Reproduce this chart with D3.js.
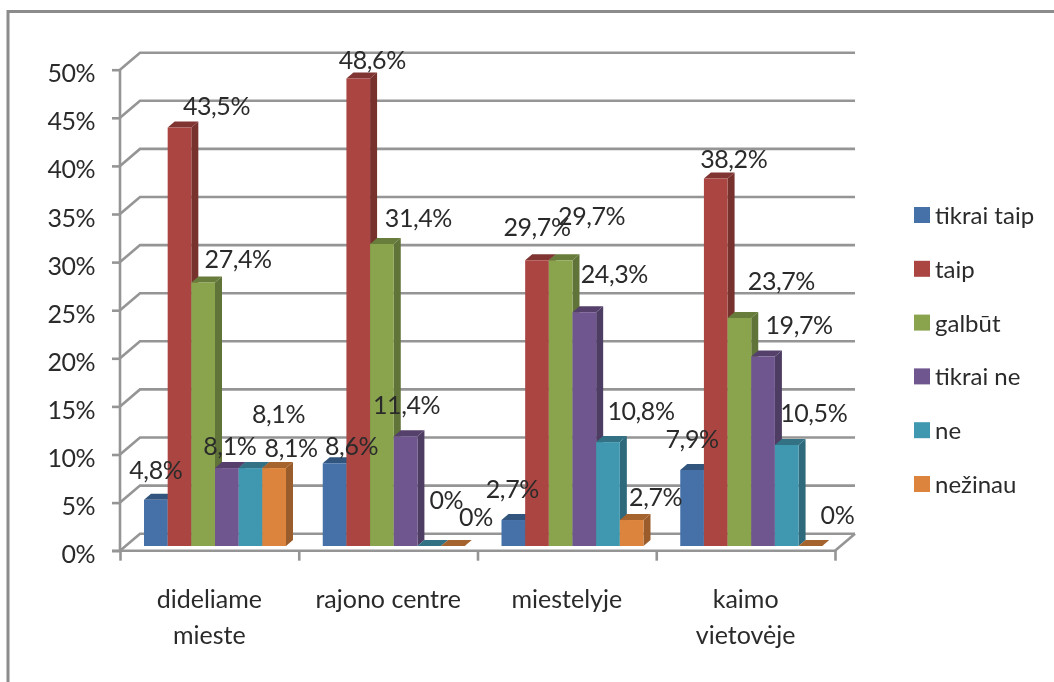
<!DOCTYPE html>
<html><head><meta charset="utf-8">
<script src="https://cdn.jsdelivr.net/npm/d3@7"></script>
<style>html,body{margin:0;background:#fff}svg{display:block}text{font-family:Lato,"Open Sans",sans-serif;fill:#2b2b2b}</style>
</head><body><svg id="c" width="1054" height="682"></svg>
<script>
const categories=[["dideliame","mieste"],["rajono centre"],["miestelyje"],["kaimo","vietovėje"]];
const seriesNames=["tikrai taip","taip","galbūt","tikrai ne","ne","nežinau"];
const tikraiTaip=[4.8,8.6,2.7,7.9];
const taip=[43.5,48.6,29.7,38.2];
const galbut=[27.4,31.4,29.7,23.7];
const tikraiNe=[8.1,11.4,24.3,19.7];
const ne=[8.1,0,10.8,10.5];
const nezinau=[8.1,0,2.7,0];
const tickValues=[0,5,10,15,20,25,30,35,40,45,50];
const allSeries=[tikraiTaip,taip,galbut,tikraiNe,ne,nezinau];
const colours=["#4471a8","#aa4542","#89a44e","#70578f","#4098b0","#dc843c"];
// label centre offsets from each bar's top centre [dx,dy], per series then category
const labelOffsets=[
 [[0,-31],[17,-18],[-1,-32],[0,-32]],
 [[37,-23],[14,-19.5],[0,-34],[18,-21]],
 [[35,-24],[36.5,-27],[31,-45],[42,-38]],
 [[3,-23],[1,-32],[30,-39],[36,-32.5]],
 [[28,-55],[17,-47],[33,-32],[27,-33]],
 [[17,-21],[23,-30],[24,-24],[27,-32]]];

const svg=d3.select("#c");
const defs=svg.append("defs");
defs.append("filter").attr("id","soft").attr("x",0).attr("y",0).attr("width",1).attr("height",1)
  .attr("filterUnits","userSpaceOnUse").attr("x",0).attr("y",0).attr("width",1054).attr("height",682)
  .append("feGaussianBlur").attr("stdDeviation",0.55);
const root=svg.append("g").attr("filter","url(#soft)");
root.append("path").attr("d","M8,682V11.5H1054").attr("fill","none").attr("stroke","#8c8c8c").attr("stroke-width",3);
const g=root.append("g");
const y=d3.scaleLinear().domain([0,50]).range([546,65]);
const frontY=v=>y(v)+4.7;
const backY=v=>y(v)-12.3;
const x0=d3.scaleBand().domain(d3.range(4)).range([120,835]);
const x1=d3.scaleBand().domain(d3.range(6)).range([24,166]);
const dx=20,grid="#959595",sw=2.6;
const xLeft=x0.range()[0],xRight=x0.range()[1];
tickValues.forEach(v=>{
  g.append("path").attr("d",`M${xLeft},${frontY(v)}L${xLeft+dx},${backY(v)}H${xRight+dx}`).attr("fill","none").attr("stroke",grid).attr("stroke-width",sw);
});
g.append("path").attr("d",`M${xRight+dx},${backY(0)}L${xRight},${frontY(0)}`).attr("fill","none").attr("stroke",grid).attr("stroke-width",sw);
const ya=g.append("g").attr("transform",`translate(${xLeft},4.7)`).call(d3.axisLeft(y).tickValues(tickValues).tickFormat(d=>d+"%").tickSize(8).tickPadding(17));
ya.select(".domain").attr("stroke",grid).attr("stroke-width",sw).attr("d",`M0,${y(50)}V${y(0)}`);
ya.selectAll("line").attr("stroke",grid).attr("stroke-width",sw);
ya.selectAll("text").attr("font-size",25).attr("letter-spacing",-0.5).attr("fill","#2b2b2b").attr("style","font-family:Lato").attr("dy","0.48em");
const xa=g.append("g").attr("transform",`translate(0,${frontY(0)})`).call(d3.axisBottom(d3.scaleLinear().domain([0,4]).range([xLeft,xRight])).tickValues(d3.range(5)).tickFormat("").tickSize(10));
xa.select(".domain").attr("stroke",grid).attr("stroke-width",sw).attr("d",`M${xLeft-8},0H${xRight}`);
xa.selectAll("line").attr("stroke",grid).attr("stroke-width",sw);
// bars
const D=7,Dy=6;
const bars=g.append("g");
categories.forEach((_,c)=>{
  allSeries.forEach((s,i)=>{
    const v=s[c],bx=x0(c)+x1(i),w=x1.bandwidth(),t=y(v),b=y(0),col=d3.color(colours[i]);
    bars.append("path").attr("d",`M${bx+w},${t}l${D},${-Dy}V${b-Dy}l${-D},${Dy}Z`).attr("fill",col.darker(1));
    bars.append("path").attr("d",`M${bx},${t}l${D},${-Dy}h${w}l${-D},${Dy}Z`).attr("fill",col.darker(0.8));
    bars.append("rect").attr("x",bx).attr("y",t).attr("width",w).attr("height",b-t).attr("fill",colours[i]);
  });
});
// labels
const lab=g.append("g");
allSeries.forEach((s,i)=>s.forEach((v,c)=>{
  const o=labelOffsets[i][c],bx=x0(c)+x1(i)+x1.bandwidth()/2;
  lab.append("text").attr("x",bx+o[0]).attr("y",y(v)+o[1]).attr("text-anchor","middle").attr("dominant-baseline","central").attr("font-size",25).attr("letter-spacing",-0.4)
   .text(String(v).replace(".",",")+"%");
}));
// category labels
categories.forEach((l,c)=>{
  l.forEach((t,k)=>g.append("text").attr("x",x0(c)+x0.bandwidth()/2).attr("y",608+k*36).attr("text-anchor","middle").attr("font-size",25).text(t));
});
// legend
const ly=d3.scalePoint().domain(seriesNames).range([215,484]);
seriesNames.forEach((n,i)=>{
  g.append("rect").attr("x",914).attr("y",ly(n)-8).attr("width",16).attr("height",16).attr("fill",colours[i]);
  g.append("text").attr("x",935).attr("y",ly(n)+9).attr("font-size",24).text(n);
});
</script></body></html>
